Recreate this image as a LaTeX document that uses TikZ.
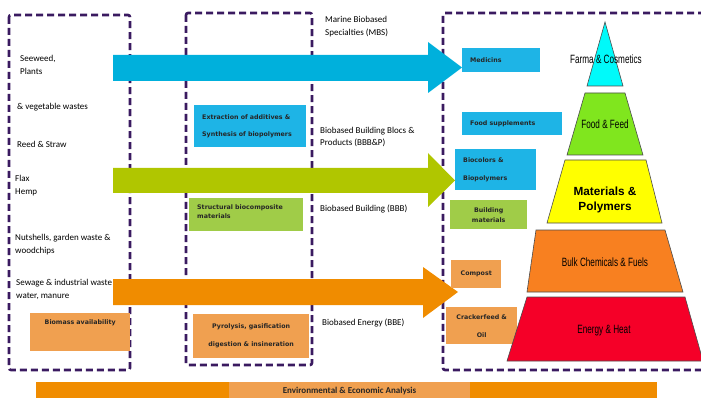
\documentclass[tikz,border=0pt]{standalone}
\usepackage{fontspec}
\setmainfont{Carlito}
\newfontfamily\narrowfont[FakeStretch=0.68]{Liberation Sans}
\newfontfamily\pyrfont{Liberation Sans}
\newfontfamily\boxfont{DejaVu Sans}
\usetikzlibrary{positioning}
\definecolor{dashcol}{RGB}{58,26,96}
\definecolor{bluearr}{RGB}{0,176,220}
\definecolor{greenarr}{RGB}{176,198,0}
\definecolor{orangearr}{RGB}{240,140,0}
\definecolor{bluebx}{RGB}{30,180,230}
\definecolor{greenbx}{RGB}{160,204,72}
\definecolor{orangebx}{RGB}{240,160,80}
\definecolor{pyrcyan}{RGB}{0,250,250}
\definecolor{pyrgreen}{RGB}{128,230,30}
\definecolor{pyryellow}{RGB}{255,255,0}
\definecolor{pyrorange}{RGB}{248,128,32}
\definecolor{pyrred}{RGB}{245,0,40}

\begin{document}
\begin{tikzpicture}[x=1pt, y=-1pt, every node/.style={inner sep=0pt, font=\fontsize{9}{13}\selectfont},
  frame/.style={draw=dashcol, line width=2.6pt, dash pattern=on 7pt off 4pt, rounded corners=2pt},
  src/.style={anchor=west, align=left, text=black},
  route/.style={anchor=west, align=left, text=black},
  bx/.style={anchor=north west, inner xsep=8pt, inner ysep=3pt, text=black!85,
             font=\boxfont\bfseries\fontsize{6.3}{7.5}\selectfont},
  layer/.style={draw=black!70, line width=0.6pt},
  tier/.style={font=\narrowfont\fontsize{12}{13}\selectfont, text=black}]
  \useasboundingbox (0,0) rectangle (701,398);
  % dashed frames
  \draw[frame] (9,15) rectangle (130,370);
  \draw[frame] (186,13) rectangle (312,365);
  \draw[frame] (705,13) -- (443,13) -- (443,370) -- (705,370);
  % value chain arrows
  \fill[bluearr] (113,55) -- (428,55) -- (428,42) -- (462,67.5) -- (428,93) -- (428,81) -- (113,81) -- cycle;
  \fill[greenarr] (113,168) -- (428,168) -- (428,153) -- (455,180.5) -- (428,207) -- (428,193) -- (113,193) -- cycle;
  \fill[orangearr] (113,279) -- (423,279) -- (423,267) -- (458,292) -- (423,318) -- (423,305) -- (113,305) -- cycle;
  % biomass sources
  \node[src] (seew)  at (20,65)  {Seeweed,\\Plants};
  \node[src] (veg)   at (17,107) {\& vegetable wastes};
  \node[src] (reed)  at (17,144) {Reed \& Straw};
  \node[src] (flax)  at (15,186) {Flax\\Hemp};
  \node[src] (nuts)  at (15,245) {Nutshells, garden waste \&\\woodchips};
  \node[src] (sewg)  at (16,289) {Sewage \& industrial waste\\water, manure};
  \node[bx, fill=orangebx, inner xsep=5pt, inner ysep=7pt, text width=90pt, align=center, text depth=19pt] (bioav) at (30,313) {Biomass availability};
  % conversion steps
  \node[bx, fill=bluebx, text width=96pt, minimum height=42pt, align=left] (extr) at (194,105) {Extraction of additives \&\\[9.5pt]Synthesis of biopolymers};
  \node[bx, fill=greenbx, inner ysep=7pt, text width=98pt, align=left, text depth=14pt] (struc) at (189,198) {Structural biocomposite\\[1.5pt]materials};
  \node[bx, fill=orangebx, text width=100pt, minimum height=44pt, align=center] (pyro) at (193,314) {Pyrolysis, gasification\\[10.5pt]digestion \& insineration};
  % routes
  \node[route] (mbs)  at (325,27)  {Marine Biobased\\Specialties (MBS)};
  \node[route] (bbbp) at (320,137) {Biobased Building Blocs \&\\Products (BBB\&P)};
  \node[route] (bbb)  at (320,209) {Biobased Building (BBB)};
  \node[route] (bbe)  at (322,323) {Biobased Energy (BBE)};
  % products
  \node[bx, fill=bluebx, text width=62pt, minimum height=24pt, align=left] (medi) at (462,48) {Medicins};
  \node[bx, fill=bluebx, text width=84pt, minimum height=23pt, align=left] (food) at (462,112) {Food supplements};
  \node[bx, fill=bluebx, text width=65pt, minimum height=41pt, align=left] (bioc) at (455,149) {Biocolors \&\\[10.5pt]Biopolymers};
  \node[bx, fill=greenbx, inner xsep=5pt, text width=67pt, minimum height=29pt, align=center] (bmat) at (450,200) {Building\\[2.5pt]materials};
  \node[bx, fill=orangebx, inner xsep=5pt, text width=40pt, minimum height=28pt, align=center] (comp) at (451,260) {Compost};
  \node[bx, fill=orangebx, inner xsep=5pt, text width=61pt, minimum height=37pt, align=center] (crack) at (446,307) {Crackerfeed \&\\[10.5pt]Oil};
  % value pyramid
  \filldraw[layer, fill=pyrcyan]   (605,22) -- (623,86) -- (587,86) -- cycle;
  \filldraw[layer, fill=pyrgreen]  (585,93) -- (625,93) -- (643,155) -- (567,155) -- cycle;
  \filldraw[layer, fill=pyryellow] (565,160) -- (646,160) -- (662,223) -- (547,223) -- cycle;
  \filldraw[layer, fill=pyrorange] (536,230) -- (665,230) -- (683,292) -- (527,292) -- cycle;
  \filldraw[layer, fill=pyrred]    (527,297) -- (685,297) -- (703,361) -- (507,361) -- cycle;
  \node[tier] (farma) at (606,59)  {Farma \& Cosmetics};
  \node[tier] (feed)  at (605,124) {Food \& Feed};
  \node[align=center, font=\pyrfont\bfseries\fontsize{11.8}{15}\selectfont] (matp) at (605,200) {Materials \&\\Polymers};
  \node[tier] (bulk)  at (605,262) {Bulk Chemicals \& Fuels};
  \node[tier] (heat) at (604,331) {Energy \& Heat};
  % analysis bar
  \fill[orangearr] (36,382) rectangle (657,400);
  \node[fill=orangebx, minimum width=241pt, minimum height=18pt, text=black!85,
        font=\bfseries\fontsize{9}{10}\selectfont] (envan) at (349.5,391) {Environmental \& Economic Analysis};
\end{tikzpicture}
\end{document}
